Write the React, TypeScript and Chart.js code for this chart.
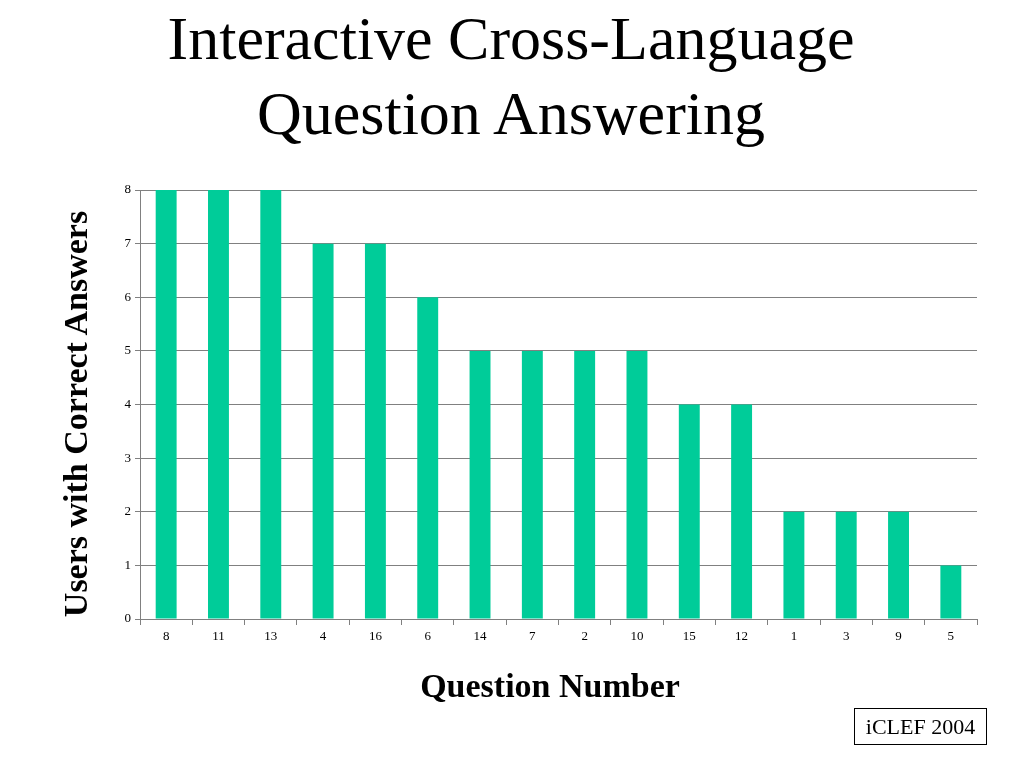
import React, { useEffect, useRef } from "react";
import { Chart, registerables } from "chart.js";

Chart.register(...registerables);

const titleLines = ["Interactive Cross-Language", "Question Answering"];
const questions = ["8", "11", "13", "4", "16", "6", "14", "7", "2", "10", "15", "12", "1", "3", "9", "5"];
const correctUsers = [8, 8, 8, 7, 7, 6, 5, 5, 5, 5, 4, 4, 2, 2, 2, 1];
const yTitle = "Users with Correct Answers";
const xTitle = "Question Number";
const badge = "iCLEF 2004";

const SERIF = "'Liberation Serif', 'DejaVu Serif', serif";

export default function App() {
  const ref = useRef<HTMLCanvasElement | null>(null);

  useEffect(() => {
    if (!ref.current) return;
    const chart = new Chart(ref.current, {
      type: "bar",
      data: {
        labels: questions,
        datasets: [
          {
            data: correctUsers,
            backgroundColor: "#00cc99",
            borderWidth: 0,
            barPercentage: 0.4,
            categoryPercentage: 1,
          },
        ],
      },
      options: {
        animation: false,
        responsive: false,
        maintainAspectRatio: false,
        layout: { padding: { left: 0, right: 47, top: 190, bottom: 0 } },
        plugins: {
          legend: { display: false },
          tooltip: { enabled: false },
          title: { display: false },
        },
        scales: {
          x: {
            grid: {
              display: true,
              drawOnChartArea: false,
              drawTicks: true,
              tickLength: 6,
              offset: true,
              color: "#808080",
            },
            border: { display: true, color: "#808080", width: 1 },
            ticks: {
              color: "#000",
              font: { family: SERIF, size: 13 },
              padding: 4,
              maxRotation: 0,
              autoSkip: false,
            },
            title: { display: false },
            afterFit: (scale: any) => {
              scale.height = 149;
            },
          },
          y: {
            min: 0,
            max: 8,
            grid: {
              color: "#808080",
              tickLength: 5,
              drawTicks: true,
            },
            border: { display: true, color: "#808080", width: 1 },
            ticks: {
              stepSize: 1,
              color: "#000",
              font: { family: SERIF, size: 13 },
              padding: 4,
            },
            title: { display: false },
            afterFit: (scale: any) => {
              scale.width = 140;
            },
          },
        },
      },
    });
    return () => chart.destroy();
  }, []);

  return (
    <div style={{ position: "absolute", left: 0, top: 0, width: 1024, height: 768, background: "#fff", overflow: "hidden" }}>
      <canvas ref={ref} width={1024} height={768} style={{ position: "absolute", left: 0, top: 0, width: 1024, height: 768 }} />
      <div
        style={{
          position: "absolute",
          left: 0,
          top: 1,
          width: 1022,
          textAlign: "center",
          fontFamily: SERIF,
          fontSize: 62,
          lineHeight: "75px",
          color: "#000",
        }}
      >
        {titleLines.map((t) => (
          <div key={t}>{t}</div>
        ))}
      </div>
      <div
        style={{
          position: "absolute",
          left: 300,
          top: 666,
          width: 500,
          height: 40,
          textAlign: "center",
          fontFamily: SERIF,
          fontSize: 34,
          fontWeight: "bold",
          lineHeight: "40px",
          color: "#000",
          whiteSpace: "nowrap",
        }}
      >
        {xTitle}
      </div>
      <div
        style={{
          position: "absolute",
          left: 76 - 250,
          top: 414 - 20,
          width: 500,
          height: 40,
          textAlign: "center",
          fontFamily: SERIF,
          fontSize: 34,
          fontWeight: "bold",
          lineHeight: "40px",
          color: "#000",
          whiteSpace: "nowrap",
          transform: "rotate(-90deg)",
          transformOrigin: "50% 50%",
        }}
      >
        {yTitle}
      </div>
      <div
        style={{
          position: "absolute",
          left: 854,
          top: 708,
          width: 131,
          height: 35,
          border: "1px solid #000",
          fontFamily: SERIF,
          fontSize: 22,
          lineHeight: "35px",
          textAlign: "center",
          color: "#000",
        }}
      >
        {badge}
      </div>
    </div>
  );
}
